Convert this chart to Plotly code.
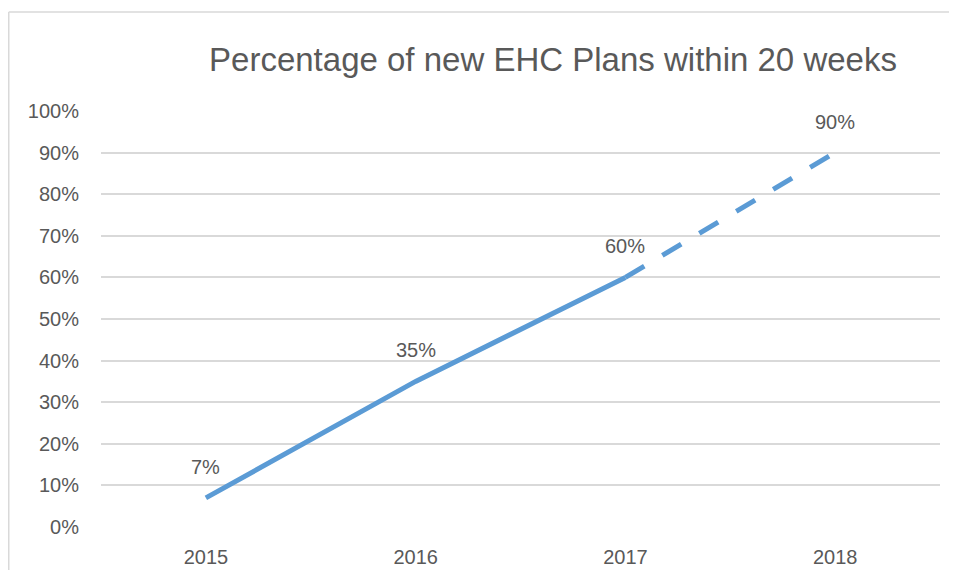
import plotly.graph_objects as go

years = ["2015", "2016", "2017", "2018"]
values = [0.07, 0.35, 0.60, 0.90]
labels = ["7%", "35%", "60%", "90%"]
n_actual = 3  # first three points are actual (solid), last segment is projected (dashed)
title_text = "Percentage of new EHC Plans within 20 weeks"
y_ticks = [i / 10 for i in range(0, 11)]
y_ticktext = [f"{i * 10}%" for i in range(0, 11)]

# page has an 8px body margin, so figure is sized to fit inside the window
W, H = 941, 562
L, R, T, B = 93, 9, 103, 43
pw, ph = W - L - R, H - T - B

line_color = "#5B9BD5"
text_color = "#595959"
grid_color = "#D9D9D9"
font_family = "Liberation Sans, Arial, sans-serif"

fig = go.Figure()
fig.add_trace(go.Scatter(
    x=years[:n_actual], y=values[:n_actual], mode="lines",
    line=dict(color=line_color, width=5), hoverinfo="skip", showlegend=False,
))
fig.add_trace(go.Scatter(
    x=years[n_actual - 1:], y=values[n_actual - 1:], mode="lines",
    line=dict(color=line_color, width=5, dash="22px,21px"), hoverinfo="skip", showlegend=False,
))

for i, (yv, lab) in enumerate(zip(values, labels)):
    fig.add_annotation(x=i, y=yv, xref="x", yref="y", text=lab, showarrow=False, yshift=31,
                       yanchor="middle", xanchor="center",
                       font=dict(size=20, color=text_color, family=font_family))

def px_x(p):
    return (p - L) / pw

def px_y(p):
    return (H - B - p) / ph

# chart-area border (only top and left edges are visible in the reference)
border = dict(color=grid_color, width=1.5)
fig.add_shape(type="line", xref="paper", yref="paper",
              x0=px_x(0.75), x1=px_x(W + 5), y0=px_y(4), y1=px_y(4), line=border, layer="below")
fig.add_shape(type="line", xref="paper", yref="paper",
              x0=px_x(0.75), x1=px_x(0.75), y0=px_y(4), y1=px_y(H + 5), line=border, layer="below")

fig.update_layout(
    width=W, height=H,
    margin=dict(l=L, r=R, t=T, b=B, autoexpand=False),
    paper_bgcolor="white", plot_bgcolor="white",
    font=dict(family=font_family, color=text_color, size=20),
    title=dict(text=title_text, xref="container", yref="container",
               x=545 / W, y=1 - 51 / H, xanchor="center", yanchor="middle",
               font=dict(size=33, color=text_color, family=font_family)),
    xaxis=dict(type="category", range=[-0.5, 3.5], showgrid=False, zeroline=False,
               showline=False, ticks="", tickfont=dict(size=20, color=text_color),
               ticklabelstandoff=16, automargin=False, fixedrange=True),
    yaxis=dict(range=[0, 1], tickvals=y_ticks, ticktext=y_ticktext, showgrid=True,
               gridcolor=grid_color, gridwidth=1.5, zeroline=False, showline=False,
               ticks="", tickfont=dict(size=20, color=text_color),
               ticklabelstandoff=21, automargin=False, fixedrange=True),
)

fig.write_html("out.html")
